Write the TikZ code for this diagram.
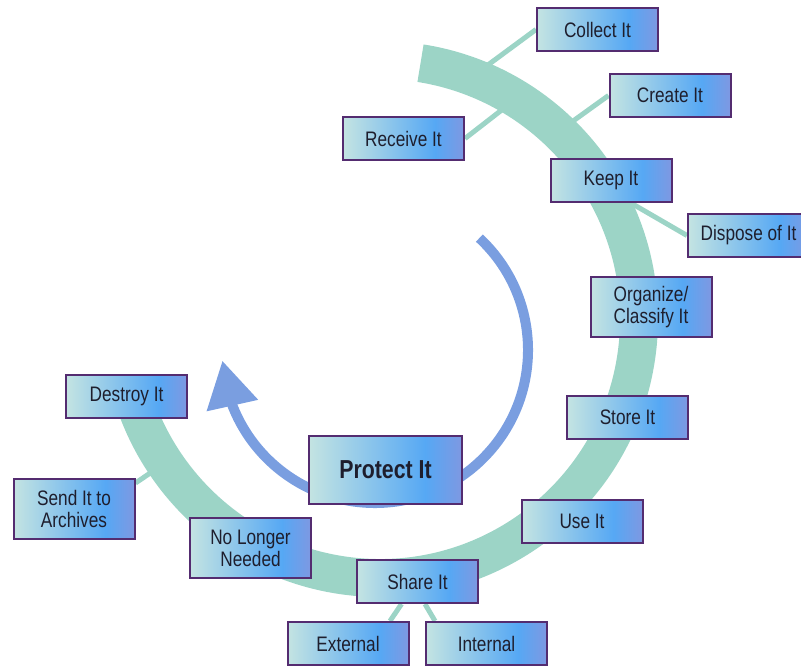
\documentclass[tikz,border=0pt]{standalone}
\usepackage{fontspec}
\setmainfont{Liberation Sans}[FakeStretch=0.82]
\usetikzlibrary{arrows.meta,bending}

\definecolor{bandteal}{RGB}{156,212,198}
\definecolor{arrowblue}{RGB}{122,158,224}
\definecolor{boxleft}{RGB}{196,228,226}
\definecolor{boxmid}{RGB}{86,168,244}
\definecolor{boxright}{RGB}{126,152,226}
\definecolor{boxline}{RGB}{84,44,112}
\definecolor{txt}{RGB}{30,30,45}
\pgfdeclarehorizontalshading{boxfill}{100bp}{color(0bp)=(boxleft); color(25bp)=(boxleft); color(63bp)=(boxmid); color(75bp)=(boxright); color(100bp)=(boxright)}
\pgfdeclarelayer{bg}
\pgfsetlayers{bg,main}

\tikzset{
  stage/.style={draw=boxline, line width=1pt, shade, shading=boxfill, text=txt,
    minimum width=60.5pt, minimum height=21.5pt, inner sep=1pt, align=center,
    font=\fontsize{10.5}{11}\selectfont},
  twoline/.style={minimum height=30pt},
  link/.style={bandteal, line width=2.5pt}
}

\begin{document}
\begin{tikzpicture}[x=0.5pt,y=0.5pt]
            \useasboundingbox (0,0) rectangle (801,666);
            % stages
            \node[stage] (collect) at (597.5,636.5) {Collect It};
            \node[stage] (create) at (670,570.5) {Create It};
            \node[stage] (receive) at (403.5,527.5) {Receive It};
            \node[stage] (keep) at (611,486) {Keep It};
            \node[stage] (dispose) at (748.5,430.5) {Dispose of It};
            \node[stage,twoline] (organize) at (651,359) {Organize/\\Classify It};
            \node[stage] (store) at (627.5,248.5) {Store It};
            \node[stage] (use) at (582,144.5) {Use It};
            \node[stage,minimum width=76.5pt,minimum height=34pt,
              font=\bfseries\fontsize{13}{15}\selectfont] (protect) at (385.5,196) {Protect It};
            \node[stage] (share) at (417.5,84.5) {Share It};
            \node[stage,twoline] (nolonger) at (250.5,118) {No Longer\\Needed};
            \node[stage] (destroy) at (126.5,269.5) {Destroy It};
            \node[stage,twoline] (archives) at (74,157) {Send It to\\Archives};
            \node[stage] (external) at (348,22.5) {External};
            \node[stage] (internal) at (486.5,22.5) {Internal};
            % free ends under the band
            \coordinate (collectend) at (475,591.5);
            \coordinate (receiveend) at (512,564);
            \coordinate (createend) at (562,537);
            \coordinate (archivesend) at (165,203);
            \begin{pgfonlayer}{bg}
            \draw[link] (collect.west) -- (collectend);
            \draw[link] (receive.east) -- (receiveend);
            \draw[link] (create.west) -- (createend);
            \draw[link] ([yshift=-2.5pt]archives.north east) -- (archivesend);
            \draw[link] ([xshift=9.5pt]keep.south) -- (dispose.west);
            \draw[link] ([xshift=-8pt]share.south) -- ([xshift=21pt]external.north);
            \draw[link] ([xshift=3.75pt]share.south) -- ([xshift=-25.75pt]internal.north);
            % the cycle
            \draw[bandteal, line width=19pt] (380,347) ++(81:259) arc[start angle=81, end angle=-163, radius=259];
            \draw[arrowblue, line width=5pt, -{Triangle[length=23pt,width=25pt,flex]}]
              (375,316) ++(47:153) arc[start angle=47, end angle=-176, radius=153];
            \end{pgfonlayer}
\end{tikzpicture}
\end{document}
